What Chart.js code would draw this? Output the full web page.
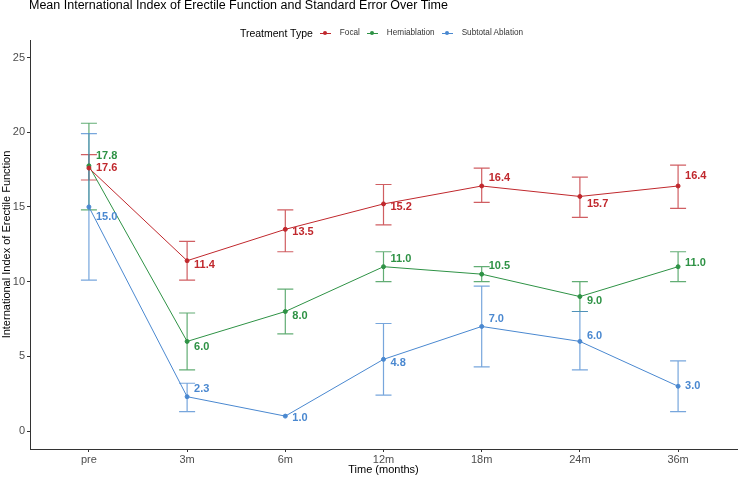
<!DOCTYPE html>
<html>
<head>
<meta charset="utf-8">
<script src="https://cdn.jsdelivr.net/npm/chart.js@4.4.1/dist/chart.umd.min.js"></script>
<style>
  body { margin: 0; background: #fff; font-family: "Liberation Sans", Arial, sans-serif; }
  #wrap { position: relative; width: 740px; height: 477px; }
  #title { position: absolute; left: 29px; top: -2px; font-size: 12.5px; color: #000; white-space: nowrap; }
  #legend { position: absolute; left: 30px; width: 710px; top: 23px; text-align: center; white-space: nowrap; }
  #legend .lt { font-size: 10.5px; color: #000; margin-right: 7px; vertical-align: middle; }
  #legend .item { display: inline-block; vertical-align: middle; margin-right: 7px; font-size: 8.2px; color: #333; }
  #legend .key { display: inline-block; position: relative; width: 11px; height: 10px; vertical-align: middle; margin-right: 9px; }
  #legend .key i { position: absolute; left: 0; right: 0; top: 5px; height: 1px; }
  #legend .key b { position: absolute; left: 3.5px; top: 3.5px; width: 4px; height: 4px; border-radius: 50%; }
  canvas { position: absolute; left: 0; top: 0; }
</style>
</head>
<body>
<div id="wrap">
  <canvas id="iiefChart" width="740" height="477"></canvas>
  <div id="title">Mean International Index of Erectile Function and Standard Error Over Time</div>
  <div id="legend"></div>
</div>
<script>
// Data
const timepoints = ['pre', '3m', '6m', '12m', '18m', '24m', '36m'];
const yTicks = [0, 5, 10, 15, 20, 25];
const seriesNames = ['Focal', 'Hemiablation', 'Subtotal Ablation'];

const focalMean  = [17.6, 11.4, 13.5, 15.2, 16.4, 15.7, 16.4];
const focalLower = [16.8, 10.1, 12.0, 13.8, 15.3, 14.3, 14.9];
const focalUpper = [18.5, 12.7, 14.8, 16.5, 17.6, 17.0, 17.8];

const hemiMean  = [17.75, 6.0, 8.0, 11.0, 10.5, 9.0, 11.0];
const hemiLower = [14.8, 4.1, 6.5, 10.0, 10.0, 8.0, 10.0];
const hemiUpper = [20.6, 7.9, 9.5, 12.0, 11.0, 10.0, 12.0];

const subtotalMean  = [15.0, 2.3, 1.0, 4.8, 7.0, 6.0, 3.0];
const subtotalLower = [10.1, 1.3, null, 2.4, 4.3, 4.1, 1.3];
const subtotalUpper = [19.9, 3.2, null, 7.2, 9.7, 8.0, 4.7];

// label placement (vertical nudge in px, like ggrepel)
const focalNudge    = [0, 4, 3, 3, -8, 8, -10];
const hemiNudge     = [-10, 6, 4, -8, -8, 4, -4];
const subtotalNudge = [10, -8, 2, 4, -7, -5, 0];

const colors = ['#C0282D', '#2E9245', '#4A88D0'];

function makeSet(name, mean, lower, upper, nudge, color) {
  return {
    label: name,
    data: mean.map((v, i) => ({ x: i, y: v })),
    lower: lower,
    upper: upper,
    nudge: nudge,
    borderColor: color,
    backgroundColor: color,
    borderWidth: 1,
    pointRadius: 2,
    pointHoverRadius: 2,
    tension: 0
  };
}

// legend in HTML
const legendEl = document.getElementById('legend');
let html = '<span class="lt">Treatment Type</span>';
seriesNames.forEach((n, i) => {
  html += '<span class="item"><span class="key"><i style="background:' + colors[i] + '"></i><b style="background:' +
    colors[i] + '"></b></span>' + n + '</span>';
});
legendEl.innerHTML = html;

const errorBars = {
  id: 'errorBars',
  beforeDatasetsDraw(chart) {
    const ctx = chart.ctx, xs = chart.scales.x, ys = chart.scales.y;
    chart.data.datasets.forEach(ds => {
      ctx.save();
      ctx.strokeStyle = ds.borderColor;
      ctx.globalAlpha = 0.75;
      ctx.lineWidth = 1.2;
      ds.lower.forEach((lo, j) => {
        const hi = ds.upper[j];
        if (lo == null || hi == null) return;
        const px = xs.getPixelForValue(j);
        const y1 = ys.getPixelForValue(lo), y2 = ys.getPixelForValue(hi);
        ctx.beginPath();
        ctx.moveTo(px, y1); ctx.lineTo(px, y2);
        ctx.moveTo(px - 8, y1); ctx.lineTo(px + 8, y1);
        ctx.moveTo(px - 8, y2); ctx.lineTo(px + 8, y2);
        ctx.stroke();
      });
      ctx.restore();
    });
  },
  afterDatasetsDraw(chart) {
    const ctx = chart.ctx, xs = chart.scales.x, ys = chart.scales.y;
    ctx.save();
    ctx.font = 'bold 11px "Liberation Sans", Arial, sans-serif';
    ctx.textAlign = 'left';
    ctx.textBaseline = 'middle';
    chart.data.datasets.forEach(ds => {
      ctx.fillStyle = ds.borderColor;
      ds.data.forEach((p, j) => {
        ctx.fillText(p.y.toFixed(1), xs.getPixelForValue(p.x) + 7, ys.getPixelForValue(p.y) + ds.nudge[j]);
      });
    });
    ctx.restore();
  }
};

const ctx = document.getElementById('iiefChart').getContext('2d');
const iiefChart = new Chart(ctx, {
  type: 'line',
  data: {
    datasets: [
      makeSet(seriesNames[0], focalMean, focalLower, focalUpper, focalNudge, colors[0]),
      makeSet(seriesNames[1], hemiMean, hemiLower, hemiUpper, hemiNudge, colors[1]),
      makeSet(seriesNames[2], subtotalMean, subtotalLower, subtotalUpper, subtotalNudge, colors[2])
    ]
  },
  plugins: [errorBars],
  options: {
    responsive: false,
    animation: false,
    layout: { padding: { top: 40, right: 0, bottom: 0, left: 0 } },
    plugins: {
      legend: { display: false },
      tooltip: { enabled: false }
    },
    scales: {
      x: {
        type: 'linear',
        min: -0.6,
        max: 6.6,
        afterBuildTicks: scale => { scale.ticks = timepoints.map((t, i) => ({ value: i })); },
        afterFit: scale => { scale.height = 28; },
        ticks: {
          callback: v => timepoints[v],
          color: '#4d4d4d',
          font: { size: 11, family: '"Liberation Sans", Arial, sans-serif' },
          padding: 1,
          maxRotation: 0
        },
        grid: { drawOnChartArea: false, drawTicks: true, tickLength: 3, color: '#333' },
        border: { display: true, color: '#333', width: 1 },
        title: {
          display: true,
          text: 'Time (months)',
          color: '#000',
          font: { size: 11, family: '"Liberation Sans", Arial, sans-serif' },
          padding: { top: 0, bottom: 0 }
        }
      },
      y: {
        min: -1.2,
        max: 26.17,
        afterBuildTicks: scale => { scale.ticks = yTicks.map(v => ({ value: v })); },
        afterFit: scale => { scale.width = 30; },
        ticks: {
          color: '#4d4d4d',
          font: { size: 11, family: '"Liberation Sans", Arial, sans-serif' },
          padding: 2
        },
        grid: { drawOnChartArea: false, drawTicks: true, tickLength: 3, color: '#333' },
        border: { display: true, color: '#333', width: 1 },
        title: {
          display: true,
          text: 'International Index of Erectile Function',
          color: '#000',
          font: { size: 11, family: '"Liberation Sans", Arial, sans-serif' },
          padding: { top: 0, bottom: 0 }
        }
      }
    }
  }
});
</script>
</body>
</html>
